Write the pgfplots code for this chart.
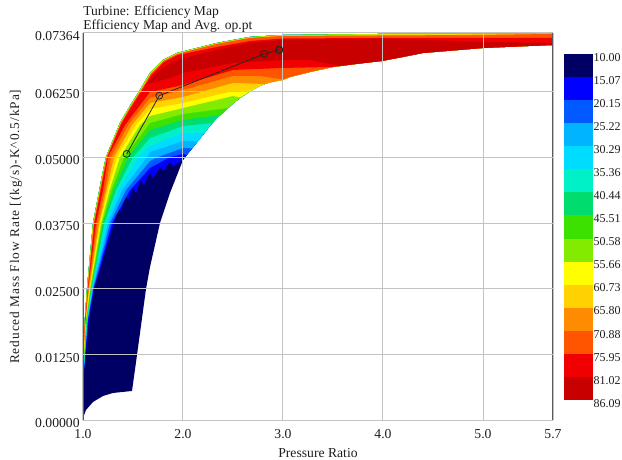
\documentclass[border=0pt]{standalone}
\usepackage{fontspec}
\setmainfont{Liberation Serif}
\newfontfamily\ylf{Liberation Serif}[LetterSpace=7]
\usepackage{pgfplots}
\pgfplotsset{compat=1.18}
\definecolor{c0}{RGB}{0,0,100}
\definecolor{c1}{RGB}{0,0,255}
\definecolor{c2}{RGB}{0,90,255}
\definecolor{c3}{RGB}{0,180,255}
\definecolor{c4}{RGB}{0,220,255}
\definecolor{c5}{RGB}{0,240,200}
\definecolor{c6}{RGB}{0,220,110}
\definecolor{c7}{RGB}{60,225,0}
\definecolor{c8}{RGB}{130,235,0}
\definecolor{c9}{RGB}{255,255,0}
\definecolor{c10}{RGB}{255,210,0}
\definecolor{c11}{RGB}{255,140,0}
\definecolor{c12}{RGB}{255,85,0}
\definecolor{c13}{RGB}{240,0,0}
\definecolor{c14}{RGB}{200,0,0}
\definecolor{gridc}{RGB}{195,195,195}
\definecolor{axc}{RGB}{90,90,90}
\definecolor{txt}{RGB}{30,30,30}
% upper (left) edges of the map
\def\UO{(1.01,.01682)(1.04,.02518)(1.10,.03753)(1.15,.04247)(1.19,.04646)(1.23,.05007)(1.30,.05330)(1.37,.05653)(1.47,.05976)(1.57,.06280)(1.67,.06603)(1.80,.06850)(1.94,.06983)(2.34,.07173)(2.67,.07287)(3.00,.07325)(4.00,.07344)(5.70,.07344)}
\def\Ua{(1.012,.01682)(1.043,.02518)(1.104,.03753)(1.155,.04247)(1.194,.04646)(1.235,.05007)(1.303,.05326)(1.374,.05649)(1.474,.05970)(1.574,.06274)(1.674,.06593)(1.804,.06840)(1.942,.06973)(2.34,.07163)(2.67,.07277)(3.00,.07315)(4.00,.07334)(5.70,.07344)}
\def\Ub{(1.014,.01682)(1.046,.02518)(1.108,.03753)(1.158,.04247)(1.198,.04646)(1.237,.05007)(1.306,.05322)(1.377,.05643)(1.477,.05966)(1.578,.06268)(1.678,.06584)(1.806,.06831)(1.945,.06964)(2.34,.07154)(2.67,.07268)(3.00,.07306)(4.00,.07315)(5.00,.07325)(5.70,.07344)}
\def\Uc{(1.016,.01682)(1.05,.02518)(1.115,.03753)(1.165,.04247)(1.205,.04646)(1.245,.05007)(1.312,.05314)(1.384,.05634)(1.484,.05957)(1.585,.06255)(1.685,.06565)(1.812,.06812)(1.95,.06945)(2.34,.07097)(2.67,.07211)(3.00,.07258)(4.00,.07268)(5.70,.07268)}
\def\Ud{(1.64,.06394)(1.75,.06622)(1.85,.06755)(1.97,.06869)(2.34,.07040)(2.67,.07173)(3.00,.07230)(4.00,.07258)(5.00,.07192)(5.70,.07173)}
% lower (right) edge of the map
\def\Ea{(5.70,.07135)(5.00,.07078)(4.40,.06983)(4.20,.06907)(3.99,.06831)(3.77,.06784)(3.50,.06717)}
\def\Eb{\Ea(3.27,.06622)(3.07,.06527)}
\def\Ec{\Eb(3.00,.06470)}
\def\Ed{\Ec(2.87,.06432)(2.77,.06356)(2.67,.06252)}
\def\Ee{\Ed(2.57,.06128)(2.50,.06020)}
\def\Ef{\Ee(2.42,.05881)}
\def\Eg{\Ef(2.34,.05748)(2.27,.05600)}
\def\Eh{\Eg(2.20,.05425)}
\def\Ei{\Eh(2.12,.05235)}
\newcommand\band[2]{\edef\temp{\noexpand\addplot[fill=#1,draw=none,forget plot] coordinates {#2};}\temp}
\begin{document}
\fontsize{10}{11.5}\selectfont
\begin{tikzpicture}
\useasboundingbox (-62.25pt,-29.625pt) rectangle (404.25pt,315.375pt);
\begin{axis}[
  at={(0pt,0pt)},anchor=south west,
  scale only axis,width=352.5pt,height=290.7pt,
  xmin=1,xmax=5.7,ymin=0,ymax=0.07364,
  scaled ticks=false,
  xtick={1,2,3,4,5,5.7},xticklabels={1.0,2.0,3.0,4.0,5.0,5.7},
  ytick={0,0.0125,0.025,0.0375,0.05,0.0625,0.07364},
  yticklabels={0.00000,0.01250,0.02500,0.03750,0.05000,0.06250,0.07364},
  grid=major,grid style={gridc,line width=0.75pt},
  major tick length=0pt,
  axis on top,
  axis line style={draw=none},
  ticklabel style={font=\fontsize{10.25}{11.5}\selectfont,text=txt},
  yticklabel style={yshift=-2.2pt,xshift=1pt},
  xticklabel style={yshift=-3.5pt},
  xlabel={Pressure Ratio},
  ylabel={\ylf Reduced Mass Flow Rate [(kg/s)-K\^{}0.5/kPa]},
  xlabel style={font=\fontsize{10.25}{11.5}\selectfont,text=txt,yshift=0pt},
  ylabel style={font=\fontsize{10}{11.5}\selectfont,text=txt,yshift=3pt},
  title={Turbine: Efficiency Map\\Efficiency Map and Avg. op.pt},
  title style={at={(0,1)},anchor=south west,align=left,inner sep=0pt,yshift=-5.5pt,font=\fontsize{10.2}{10.5}\selectfont,text=txt},
]
% navy envelope
\band{c0}{(1.00,.00048)(1.00,.01435)\UO\Ei(2.00,.04950)(1.87,.04323)(1.77,.03753)(1.67,.02917)(1.63,.02499)(1.54,.01245)(1.49,.00561)(1.30,.00523)(1.20,.00466)(1.10,.00352)(1.03,.00200)}
% regions above each level, lowest level first
\band{c1}{\UO\Ei(2.00,.04950)(1.90,.04836)(1.87,.04912)(1.80,.04741)(1.77,.04817)(1.70,.04608)(1.67,.04703)(1.61,.04475)(1.58,.04570)(1.53,.04323)(1.50,.04418)(1.45,.04190)(1.42,.04285)(1.38,.03962)(1.35,.04095)(1.31,.03753)(1.11,.02499)(1.06,.01910)(1.01,.00922)}
\band{c2}{\UO\Ei(2.04,.05045)(2.00,.05064)(1.87,.05007)(1.67,.04798)(1.47,.04380)(1.29,.03753)(1.105,.02499)(1.05,.01910)(1.01,.00960)}
\band{c3}{\UO\Ei(2.09,.05170)(2.00,.05178)(1.75,.05007)(1.67,.04931)(1.43,.04380)(1.27,.03753)(1.10,.02499)(1.047,.01910)(1.01,.00998)}
\band{c4}{\UO\Eh(2.15,.05306)(2.00,.05311)(1.67,.05102)(1.64,.05007)(1.39,.04380)(1.25,.03753)(1.095,.02499)(1.044,.01910)(1.01,.01036)}
\band{c5}{\UO\Eg(2.22,.05470)(2.00,.05463)(1.67,.05216)(1.56,.05007)(1.355,.04380)(1.23,.03753)(1.09,.02499)(1.041,.01910)(1.01,.01074)}
\band{c6}{\UO\Eg(2.29,.05653)(2.00,.05596)(1.67,.05368)(1.50,.05007)(1.33,.04380)(1.215,.03753)(1.085,.02499)(1.038,.01910)(1.01,.01112)}
\band{c7}{\UO\Ef(2.37,.05805)(2.00,.05710)(1.67,.05520)(1.45,.05007)(1.305,.04380)(1.20,.03753)(1.08,.02499)(1.035,.01910)(1.01,.01169)}
\band{c8}{\UO\Ee(2.45,.05938)(2.00,.05824)(1.67,.05653)(1.41,.05007)(1.285,.04380)(1.19,.03753)(1.075,.02499)(1.032,.01910)(1.01,.01226)}
\band{c9}{\Ua\Ed(2.57,.06137)(2.50,.06166)(2.00,.05938)(1.67,.05786)(1.57,.05615)(1.37,.05007)(1.265,.04380)(1.18,.03753)(1.07,.02499)(1.029,.01910)(1.01,.01283)}
\band{c10}{\Ua\Ec(2.87,.06432)(2.77,.06356)(2.67,.06270)(2.50,.06261)(2.00,.06033)(1.67,.05919)(1.53,.05615)(1.34,.05007)(1.25,.04380)(1.17,.03753)(1.065,.02499)(1.026,.01910)(1.01,.01340)}
\band{c11}{\Ub\Ec(2.82,.06394)(2.50,.06413)(2.00,.06147)(1.67,.06033)(1.49,.05615)(1.31,.05007)(1.235,.04380)(1.16,.03753)(1.06,.02499)(1.023,.01910)(1.01,.01416)}
\band{c12}{\Ub\Eb(3.00,.06479)(2.77,.06546)(2.50,.06546)(2.00,.06280)(1.67,.06128)(1.45,.05615)(1.28,.05007)(1.22,.04380)(1.145,.03753)(1.055,.02499)(1.021,.01910)(1.01,.01473)}
\band{c13}{\Uc\Ea(3.00,.06698)(2.50,.06660)(2.00,.06375)(1.67,.06242)(1.42,.05615)(1.25,.05007)(1.20,.04380)(1.13,.03753)(1.05,.02499)(1.02,.01910)(1.01,.01530)}
\band{c14}{\Ud(5.70,.07135)(5.00,.07078)(4.40,.06983)(3.99,.06831)(3.57,.06736)(3.27,.06850)(3.00,.06850)(2.50,.06793)(2.00,.06603)(1.84,.06489)}
% average operating points
\addplot[black!85,line width=0.6pt,mark=o,mark size=2.6pt,mark options={black!85,line width=0.6pt},forget plot]
  coordinates {(1.437,.05064)(1.763,.06171)(2.813,.06964)(2.963,.07040)(2.963,.07040)};
% axis frame
\draw[axc,line width=1.2pt] (rel axis cs:0,1)--(rel axis cs:0,0)--(rel axis cs:1,0);
\draw[axc,line width=0.8pt] (rel axis cs:1,0)--(rel axis cs:1,1);
\draw[gridc,line width=0.8pt] (rel axis cs:0,1)--(rel axis cs:1,1);
\end{axis}
\begin{axis}[
  at={(360.75pt,15.375pt)},anchor=south west,
  scale only axis,width=21.75pt,height=259.5pt,
  xmin=0,xmax=1,ymin=10,ymax=86.09,y dir=reverse,
  xtick=\empty,
  ytick={10,15.07,20.15,25.22,30.29,35.36,40.44,45.51,50.58,55.66,60.73,65.80,70.88,75.95,81.02,86.09},
  yticklabels={10.00,15.07,20.15,25.22,30.29,35.36,40.44,45.51,50.58,55.66,60.73,65.80,70.88,75.95,81.02,86.09},
  yticklabel pos=right,
  major tick length=0pt,
  axis line style={draw=none},
  ticklabel style={font=\fontsize{9}{11}\selectfont,text=txt},
  yticklabel style={yshift=-2.5pt,xshift=-3pt},
]
\addplot[fill=c0,draw=none] coordinates {(0,10)(1,10)(1,15.07)(0,15.07)};
\addplot[fill=c1,draw=none] coordinates {(0,15.07)(1,15.07)(1,20.15)(0,20.15)};
\addplot[fill=c2,draw=none] coordinates {(0,20.15)(1,20.15)(1,25.22)(0,25.22)};
\addplot[fill=c3,draw=none] coordinates {(0,25.22)(1,25.22)(1,30.29)(0,30.29)};
\addplot[fill=c4,draw=none] coordinates {(0,30.29)(1,30.29)(1,35.36)(0,35.36)};
\addplot[fill=c5,draw=none] coordinates {(0,35.36)(1,35.36)(1,40.44)(0,40.44)};
\addplot[fill=c6,draw=none] coordinates {(0,40.44)(1,40.44)(1,45.51)(0,45.51)};
\addplot[fill=c7,draw=none] coordinates {(0,45.51)(1,45.51)(1,50.58)(0,50.58)};
\addplot[fill=c8,draw=none] coordinates {(0,50.58)(1,50.58)(1,55.66)(0,55.66)};
\addplot[fill=c9,draw=none] coordinates {(0,55.66)(1,55.66)(1,60.73)(0,60.73)};
\addplot[fill=c10,draw=none] coordinates {(0,60.73)(1,60.73)(1,65.80)(0,65.80)};
\addplot[fill=c11,draw=none] coordinates {(0,65.80)(1,65.80)(1,70.88)(0,70.88)};
\addplot[fill=c12,draw=none] coordinates {(0,70.88)(1,70.88)(1,75.95)(0,75.95)};
\addplot[fill=c13,draw=none] coordinates {(0,75.95)(1,75.95)(1,81.02)(0,81.02)};
\addplot[fill=c14,draw=none] coordinates {(0,81.02)(1,81.02)(1,86.09)(0,86.09)};
\end{axis}
\end{tikzpicture}
\end{document}
